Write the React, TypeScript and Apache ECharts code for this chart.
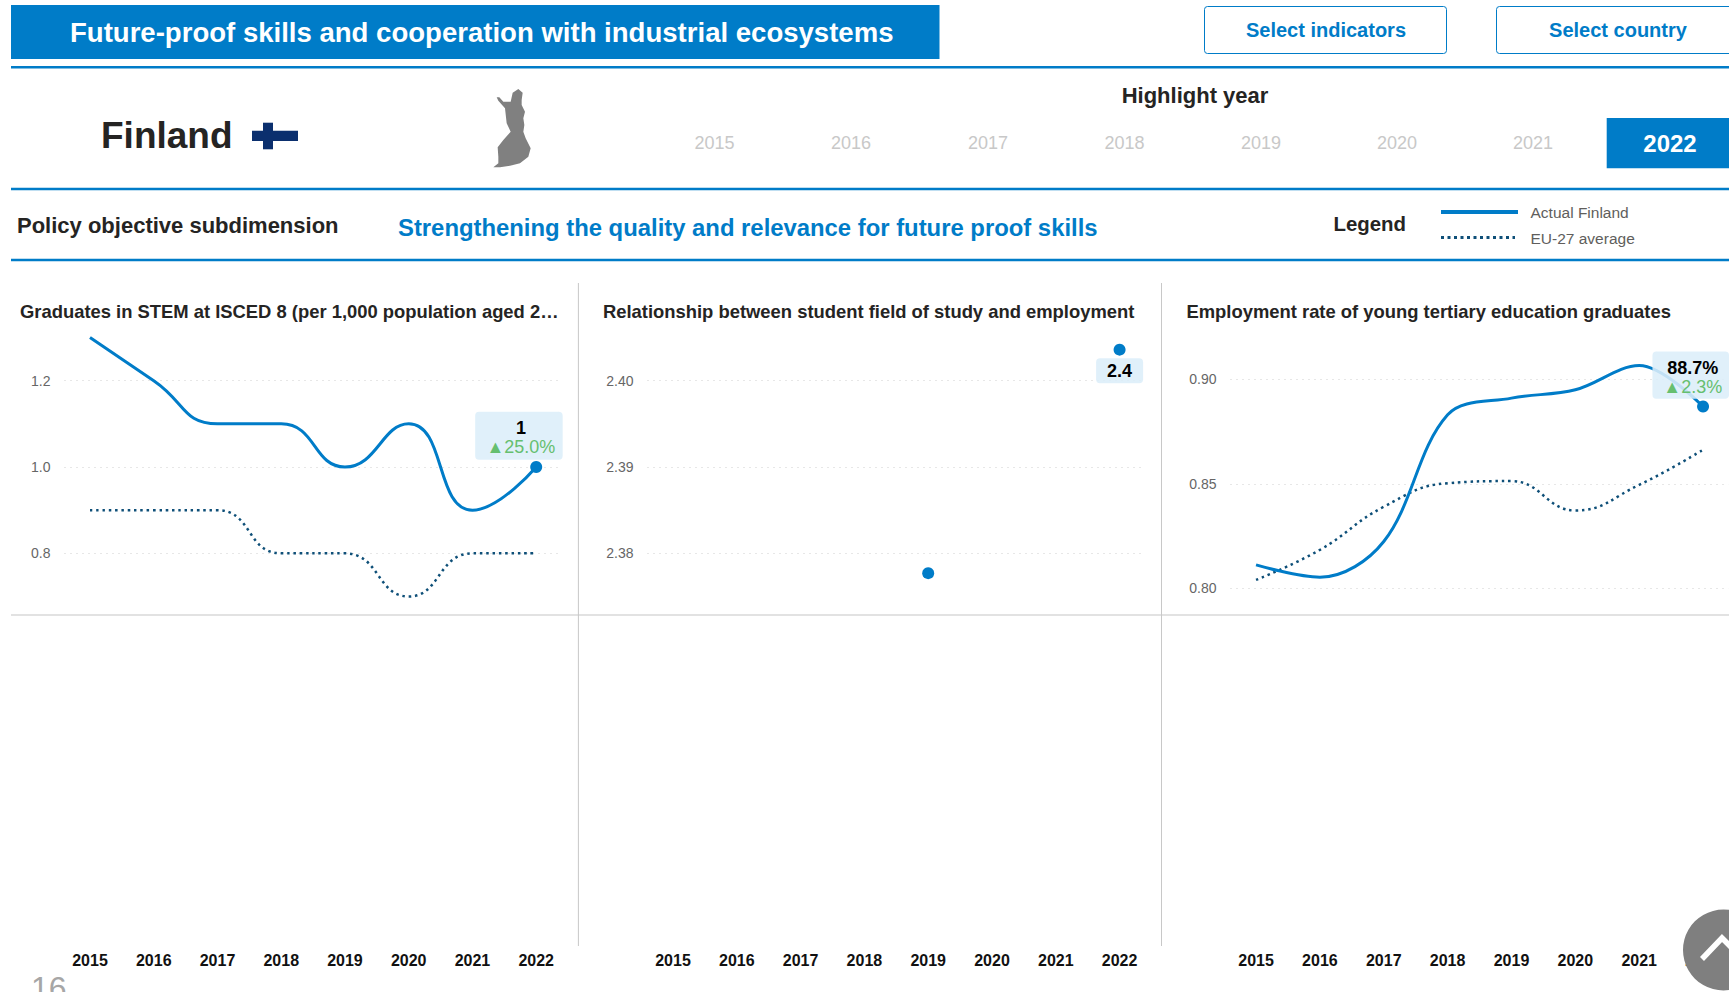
import React, { useEffect, useRef } from "react";
import * as echarts from "echarts";

const FONT = '"Liberation Sans", Arial, sans-serif';
const BLUE = "#007CC8";
const NAVY = "#0E4F78";

const years = [2015, 2016, 2017, 2018, 2019, 2020, 2021, 2022];
const slicerYears = ["2015", "2016", "2017", "2018", "2019", "2020", "2021"];
const slicerX = [714.6, 851, 988, 1124.5, 1261, 1397, 1533];

const stemActual = [1.3, 1.2, 1.1, 1.1, 1.0, 1.1, 0.9, 1.0];
const stemEu = [0.9, 0.9, 0.9, 0.8, 0.8, 0.7, 0.8, 0.8];
const relationActual = [null, null, null, null, 2.3777, null, null, 2.4036];
const employActual = [0.8112, 0.8053, 0.8224, 0.883, 0.891, 0.895, 0.9066, 0.887];
const employEu = [0.804, 0.8184, 0.839, 0.8503, 0.8513, 0.8372, 0.8495, 0.8663];

const panelTitles = [
  "Graduates in STEM at ISCED 8 (per 1,000 population aged 2…",
  "Relationship between student field of study and employment",
  "Employment rate of young tertiary education graduates",
];
const calloutValues = ["1", "2.4", "88.7%"];
const calloutDeltas = ["▲25.0%", "", "▲2.3%"];

const txt = (x: number, y: number, text: string, size: number, fill: string, bold = false, align = "left", z = 10) => ({
  type: "text",
  z,
  style: { x, y, text, fill, font: `${bold ? "bold " : ""}${size}px ${FONT}`, align, verticalAlign: "middle" },
});
const rect = (x: number, y: number, w: number, h: number, fill: string, z = 5, extra: any = {}) => ({
  type: "rect",
  z,
  shape: { x, y, width: w, height: h, ...(extra.shape || {}) },
  style: { fill, ...(extra.style || {}) },
});
const ln = (x1: number, y1: number, x2: number, y2: number, stroke: string, lineWidth = 1, lineDash?: number[]) => ({
  type: "line",
  z: 5,
  shape: { x1, y1, x2, y2 },
  style: { stroke, lineWidth, lineDash },
});

const finlandShape = [
  [128, 68], [145, 57], [158, 68], [155, 90], [155, 105], [165, 125], [160, 145], [163, 165], [160, 185],
  [167, 205], [182, 235], [175, 260], [150, 280], [120, 287], [90, 292], [70, 292], [85, 280], [85, 260], [83, 232],
  [100, 210], [122, 185], [110, 160], [105, 115], [85, 92], [80, 82], [88, 82], [100, 95], [122, 95],
].map(([x, y]) => [470 + x / 3, 70 + y / 3]);

const graphics: any[] = [
  rect(11, 5, 928.5, 54, BLUE),
  txt(70, 32.5, "Future-proof skills and cooperation with industrial ecosystems", 27.55, "#fff", true),
  rect(1204.5, 6.5, 242, 47, "#fff", 5, { style: { stroke: BLUE, lineWidth: 1 }, shape: { r: 3 } }),
  txt(1326, 29.5, "Select indicators", 20, BLUE, true, "center"),
  rect(1496.5, 6.5, 260, 47, "#fff", 5, { style: { stroke: BLUE, lineWidth: 1 }, shape: { r: 3 } }),
  txt(1618, 29.5, "Select country", 20, BLUE, true, "center"),
  ln(11, 67.3, 1729, 67.3, BLUE, 2.5),
  ln(11, 189, 1729, 189, BLUE, 2.5),
  ln(11, 260, 1729, 260, BLUE, 2.5),
  txt(101, 135, "Finland", 37, "#252423", true),
  rect(252, 130.7, 46, 10.3, "#0B2F6E"),
  rect(263, 122.7, 10, 26.6, "#0B2F6E"),
  { type: "polygon", z: 5, shape: { points: finlandShape }, style: { fill: "#808080" } },
  txt(1195, 95.5, "Highlight year", 22, "#252423", true, "center"),
  ...slicerYears.map((y, i) => txt(slicerX[i], 143, y, 18, "#C8C8C8", false, "center")),
  rect(1606.7, 118, 122.3, 50.3, BLUE),
  txt(1670, 143.2, "2022", 24, "#fff", true, "center"),
  txt(17, 225, "Policy objective subdimension", 22, "#252423", true),
  txt(398, 227, "Strengthening the quality and relevance for future proof skills", 23.85, BLUE, true),
  txt(1333.5, 224, "Legend", 20.4, "#252423", true),
  ln(1441, 212, 1518, 212, BLUE, 4),
  ln(1441, 237.5, 1515, 237.5, NAVY, 3, [3, 3.5]),
  txt(1530.5, 212, "Actual Finland", 15.5, "#605E5C"),
  txt(1530.5, 238, "EU-27 average", 15.5, "#605E5C"),
  ln(11, 615, 1729, 615, "#D9D9D9", 1.5),
  ln(578.4, 283, 578.4, 946, "#C8C8C8", 1),
  ln(1161.5, 283, 1161.5, 946, "#C8C8C8", 1),
  txt(20, 311, panelTitles[0], 18.4, "#252423", true),
  txt(603, 311, panelTitles[1], 18.4, "#252423", true),
  txt(1186.5, 311, panelTitles[2], 18.4, "#252423", true),
  txt(31, 988, "16", 32, "#A6A6A6"),
  { type: "circle", z: 50, shape: { cx: 1723.5, cy: 950, r: 40.5 }, style: { fill: "#7F7F7F" } },
  {
    type: "polyline",
    z: 51,
    shape: { points: [[1702, 959], [1722, 938], [1742, 958]] },
    style: { stroke: "#fff", lineWidth: 5.5, fill: "none" },
  },
];

const grids = [
  { left: 64.5, width: 497.2, top: 294.3, height: 345.4 },
  { left: 647.5, width: 497.6, top: 294.4, height: 345.2 },
  { left: 1230.5, width: 498.1, top: 274.8, height: 418 },
];
const yScales = [
  { min: 0.6, max: 1.4, interval: 0.2, digits: 1 },
  { min: 2.37, max: 2.41, interval: 0.01, digits: 2 },
  { min: 0.75, max: 0.95, interval: 0.05, digits: 2 },
];
const xMargins = [313, 313, 260];

const pairs = (vals: (number | null)[]) => years.map((y, i) => [y, vals[i]]).filter((p) => p[1] !== null);

const lineSeries = (name: string, idx: number, vals: number[], color: string, dotted: boolean, smooth = 0.5) => ({
  type: "line",
  name,
  xAxisIndex: idx,
  yAxisIndex: idx,
  data: pairs(vals),
  smooth,
  showSymbol: false,
  lineStyle: { color, width: dotted ? 2.5 : 3, type: dotted ? [2.5, 3.8] : "solid", cap: "butt" },
  z: dotted ? 2 : 3,
});

const callout = (idx: number, w: number, h: number, offset: number[], padding: number[], lineHeight: number) => ({
  show: true,
  position: "inside",
  offset,
  width: w - padding[3],
  height: h - padding[0],
  padding,
  align: "center",
  verticalAlign: "middle",
  backgroundColor: "rgba(220,238,249,0.88)",
  borderRadius: 4,
  formatter: calloutDeltas[idx] ? `{v|${calloutValues[idx]}}\n{d|${calloutDeltas[idx]}}` : `{v|${calloutValues[idx]}}`,
  rich: {
    v: { fontFamily: FONT, fontSize: 18, fontWeight: "bold", color: "#000", align: "center", lineHeight, width: w - padding[3] },
    d: { fontFamily: FONT, fontSize: 18, color: "#66BF6F", align: "center", lineHeight, width: w - padding[3] },
  },
});

const dots = (idx: number, vals: (number | null)[], label: any) => ({
  type: "scatter",
  name: "Actual Finland",
  xAxisIndex: idx,
  yAxisIndex: idx,
  symbolSize: 12,
  itemStyle: { color: BLUE, opacity: 1 },
  z: 5,
  data: years
    .map((y, i) => ({ y, v: vals[i], i }))
    .filter((d) => d.v !== null)
    .map((d) => ({ value: [d.y, d.v], label: d.i === years.length - 1 ? label : { show: false } })),
});

const option: any = {
  animation: false,
  textStyle: { fontFamily: FONT },
  graphic: { elements: graphics },
  grid: grids.map((g) => ({ ...g, containLabel: false })),
  xAxis: grids.map((_, i) => ({
    type: "value",
    gridIndex: i,
    min: 2014.6,
    max: 2022.4,
    splitLine: { show: false },
    axisLine: { show: false },
    axisTick: { show: false },
    axisLabel: {
      customValues: years,
      hideOverlap: false,
      showMinLabel: true,
      showMaxLabel: true,
      margin: xMargins[i],
      formatter: (v: number) => String(v),
      fontFamily: FONT,
      fontWeight: "bold",
      fontSize: 16,
      color: "#111",
    },
  })),
  yAxis: grids.map((_, i) => ({
    type: "value",
    gridIndex: i,
    min: yScales[i].min,
    max: yScales[i].max,
    interval: yScales[i].interval,
    axisLine: { show: false },
    axisTick: { show: false },
    splitLine: {
      show: true,
      showMinLine: false,
      showMaxLine: false,
      lineStyle: { color: "#CFCFCF", width: 1, type: [1, 5] },
    },
    axisLabel: {
      showMinLabel: false,
      showMaxLabel: false,
      margin: 14,
      formatter: (v: number) => v.toFixed(yScales[i].digits),
      fontFamily: FONT,
      fontSize: 14,
      color: "#666",
    },
  })),
  series: [
    lineSeries("EU-27 average", 0, stemEu, NAVY, true),
    lineSeries("Actual Finland", 0, stemActual, BLUE, false),
    dots(0, [null, null, null, null, null, null, null, stemActual[7]], callout(0, 87.5, 48, [-17.3, -31.3], [7, 0, 0, 4], 19)),
    dots(1, relationActual, callout(1, 47, 25, [0, 21], [3, 0, 0, 0], 20)),
    lineSeries("EU-27 average", 2, employEu, NAVY, true, 0.45),
    lineSeries("Actual Finland", 2, employActual, BLUE, false, 0.35),
    dots(2, [null, null, null, null, null, null, null, employActual[7]], callout(2, 76.6, 47.3, [-12.3, -31.4], [7, 0, 0, 4], 19)),
  ],
};

export default function App() {
  const ref = useRef<HTMLDivElement>(null);
  useEffect(() => {
    const chart = echarts.init(ref.current!, undefined, { renderer: "svg" });
    chart.setOption(option);
    return () => chart.dispose();
  }, []);
  return <div ref={ref} style={{ position: "absolute", left: 0, top: 0, width: 1729, height: 992, background: "#fff" }} />;
}
